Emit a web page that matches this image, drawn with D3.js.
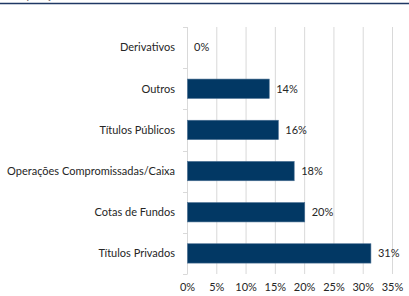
<!DOCTYPE html>
<html lang="pt">
<head>
<meta charset="UTF-8">
<title>Composição da carteira</title>
<script src="https://d3js.org/d3.v7.min.js"></script>
<style>
  * { margin: 0; padding: 0; }
  body { background: #fff; width: 409px; height: 296px; overflow: hidden; }
  text { font-family: Lato, "Open Sans", sans-serif; fill: #262626; }
</style>
</head>
<body>
<div id="chart"></div>
<script>
// data
const categories = ["Derivativos", "Outros", "Títulos Públicos", "Operações Compromissadas/Caixa", "Cotas de Fundos", "Títulos Privados"];
const values = [0, 14.04, 15.6, 18.3, 20.1, 31.4];
const valueLabels = ["0%", "14%", "16%", "18%", "20%", "31%"];
const xTicks = [0, 5, 10, 15, 20, 25, 30, 35];

const W = 409, H = 296;
const margin = {top: 27, right: 17, bottom: 22, left: 187};
const iw = W - margin.left - margin.right;
const ih = H - margin.top - margin.bottom;

const svg = d3.select("#chart").append("svg")
  .attr("width", W).attr("height", H);

// header rule + clipped title remnant at the very top
svg.append("text")
  .attr("x", 4).attr("y", -1)
  .style("font-size", "11px").style("fill", "#595959")
  .text("Composição da carteira");
svg.append("line")
  .attr("x1", 0).attr("x2", W).attr("y1", 3.5).attr("y2", 3.5)
  .attr("stroke", "#1f3864").attr("stroke-width", 1.5);

const g = svg.append("g").attr("transform", `translate(${margin.left},${margin.top})`);

const x = d3.scaleLinear().domain([0, 35]).range([0, iw]);
const y = d3.scaleBand().domain(categories).range([0, ih]).paddingInner(0.53).paddingOuter(0.265);

// vertical gridlines
g.append("g").selectAll("line")
  .data(xTicks.slice(1))
  .enter().append("line")
  .attr("x1", d => x(d) + 0.5).attr("x2", d => x(d) + 0.5)
  .attr("y1", 0).attr("y2", ih)
  .attr("stroke", "#d9d9d9").attr("stroke-width", 1);

// x axis labels
const xAxis = g.append("g")
  .attr("transform", `translate(0,${ih})`)
  .call(d3.axisBottom(x).tickValues(xTicks).tickFormat(d => d + "%").tickSize(0).tickPadding(9));
xAxis.select(".domain").remove();
xAxis.selectAll("text").style("font-size", "11px").style("fill", "#262626")
  .style("font-family", "Lato, 'Open Sans', sans-serif");

// y axis with category boundary ticks
const step = y.step();
g.append("line")
  .attr("x1", 0.5).attr("x2", 0.5).attr("y1", 0).attr("y2", ih)
  .attr("stroke", "#d9d9d9");
g.append("g").selectAll("line")
  .data(d3.range(categories.length + 1))
  .enter().append("line")
  .attr("x1", -4).attr("x2", 0.5)
  .attr("y1", i => Math.round(i * ih / categories.length) + 0.5)
  .attr("y2", i => Math.round(i * ih / categories.length) + 0.5)
  .attr("stroke", "#d9d9d9");

g.append("g").selectAll("text")
  .data(categories)
  .enter().append("text")
  .attr("x", -12)
  .attr("y", d => y(d) + y.bandwidth() / 2)
  .attr("dy", "0.35em")
  .attr("text-anchor", "end")
  .style("font-size", "11px")
  .text(d => d);

// bars
g.append("g").selectAll("rect")
  .data(categories)
  .enter().append("rect")
  .attr("x", 0.5)
  .attr("y", d => y(d))
  .attr("width", (d, i) => Math.max(0, x(values[i]) - 0.5))
  .attr("height", y.bandwidth())
  .attr("fill", "#023864")
  .attr("stroke", (d, i) => values[i] > 0 ? "#4a6f93" : "none")
  .attr("stroke-width", 0.6);

// value labels
g.append("g").selectAll("text")
  .data(categories)
  .enter().append("text")
  .attr("x", (d, i) => x(values[i]) + 7)
  .attr("y", d => y(d) + y.bandwidth() / 2)
  .attr("dy", "0.35em")
  .style("font-size", "11px")
  .text((d, i) => valueLabels[i]);
</script>
</body>
</html>
